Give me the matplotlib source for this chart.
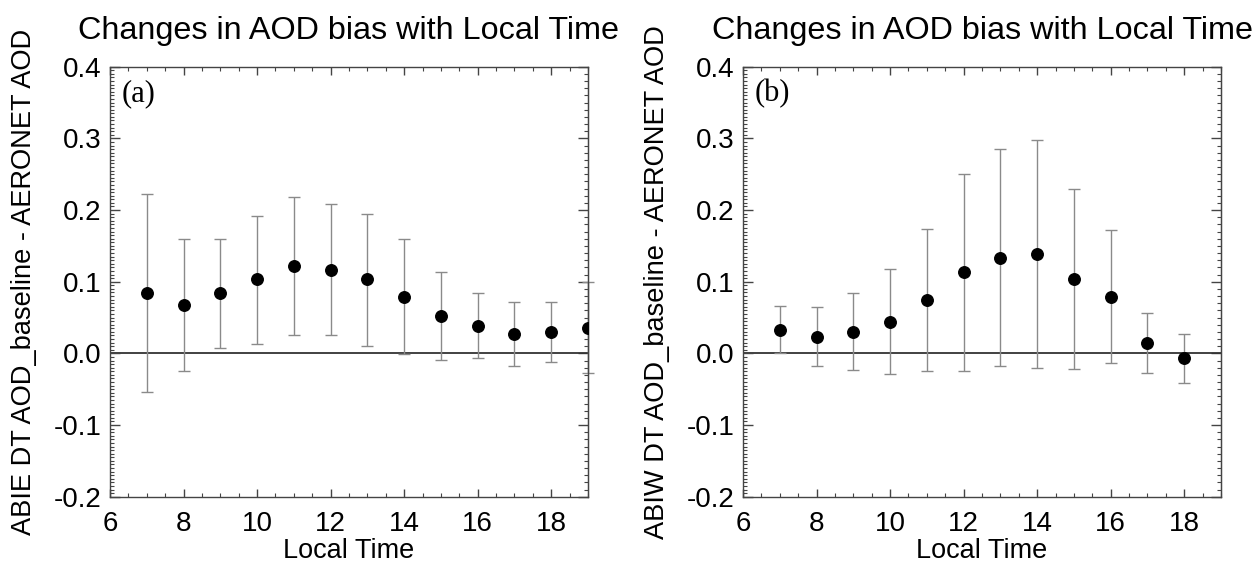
import matplotlib.pyplot as plt
from matplotlib.ticker import MultipleLocator

# local hour bins
hours_a = [7, 8, 9, 10, 11, 12, 13, 14, 15, 16, 17, 18, 19]
bias_a = [0.084, 0.068, 0.084, 0.104, 0.122, 0.117, 0.104, 0.078, 0.052, 0.038, 0.027, 0.030, 0.036]
upper_a = [0.223, 0.160, 0.160, 0.192, 0.218, 0.209, 0.194, 0.159, 0.113, 0.084, 0.072, 0.072, 0.100]
lower_a = [-0.054, -0.025, 0.008, 0.013, 0.025, 0.025, 0.010, -0.001, -0.009, -0.007, -0.018, -0.012, -0.028]

hours_b = [7, 8, 9, 10, 11, 12, 13, 14, 15, 16, 17, 18]
bias_b = [0.033, 0.023, 0.030, 0.044, 0.075, 0.113, 0.133, 0.138, 0.104, 0.079, 0.015, -0.007]
upper_b = [0.066, 0.065, 0.084, 0.118, 0.174, 0.251, 0.285, 0.298, 0.229, 0.172, 0.057, 0.027]
lower_b = [0.000, -0.018, -0.023, -0.029, -0.025, -0.024, -0.018, -0.021, -0.022, -0.014, -0.028, -0.041]

title = 'Changes in AOD bias with Local Time'
ylabels = ['ABIE DT AOD_baseline - AERONET AOD', 'ABIW DT AOD_baseline - AERONET AOD']
panel_tags = ['(a)', '(b)']

plt.rcParams['font.family'] = ['Liberation Sans', 'DejaVu Sans']

fig = plt.figure(figsize=(12.54, 5.64), dpi=100)
lefts = [0.0877, 0.5925]
panels = [(hours_a, bias_a, upper_a, lower_a), (hours_b, bias_b, upper_b, lower_b)]

for i, (hrs, bias, up, lo) in enumerate(panels):
    ax = fig.add_axes([lefts[i], 0.1193, 0.3812, 0.7624])
    err_lo = [b - l for b, l in zip(bias, lo)]
    err_up = [u - b for b, u in zip(bias, up)]
    ax.errorbar(hrs, bias, yerr=[err_lo, err_up], fmt='none', ecolor='#8a8a8a',
                elinewidth=1.0, capsize=4, capthick=1.0, clip_on=False, zorder=2)
    ax.plot(hrs, bias, 'o', color='black', markersize=8.3, zorder=3)
    ax.axhline(0.0, color='#333333', lw=1.3, zorder=1)

    ax.set_xlim(6, 19)
    ax.set_ylim(-0.2, 0.4)
    ax.xaxis.set_major_locator(MultipleLocator(2))
    ax.xaxis.set_minor_locator(MultipleLocator(0.5))
    ax.yaxis.set_major_locator(MultipleLocator(0.1))
    ax.yaxis.set_minor_locator(MultipleLocator(0.005))
    ax.yaxis.set_major_formatter(plt.FuncFormatter(lambda v, p: f'{v:.1f}'))
    ax.tick_params(axis='both', which='both', direction='in', top=True, right=False,
                   colors='#444444', labelcolor='black', labelsize=20)
    ax.tick_params(axis='x', which='major', length=5.5, width=1, pad=10)
    ax.tick_params(axis='x', which='minor', length=3.2, width=0.8)
    ax.tick_params(axis='y', which='major', length=7, width=1, pad=6)
    ax.tick_params(axis='y', which='minor', length=3.2, width=0.8)

    sec = ax.secondary_yaxis('right')
    sec.yaxis.set_major_locator(MultipleLocator(0.1))
    sec.yaxis.set_minor_locator(MultipleLocator(0.01))
    sec.tick_params(which='both', direction='in', labelright=False, colors='#444444')
    sec.tick_params(which='major', length=7, width=1)
    sec.tick_params(which='minor', length=3.2, width=0.8)
    sec.spines['right'].set_color('#444444')

    for sp in ax.spines.values():
        sp.set_color('#444444')
        sp.set_linewidth(1.0)

    ax.set_title(title, fontsize=23.3, pad=20)
    ax.set_xlabel('Local Time', fontsize=19.5, labelpad=1)
    ax.set_ylabel(ylabels[i], fontsize=19.6)
    ax.yaxis.set_label_coords(-0.152, 0.5)
    ax.text(0.025, 0.937, panel_tags[i], transform=ax.transAxes, fontsize=22,
            family='Liberation Serif', ha='left', va='center')

fig.savefig('out.png', dpi=100)
